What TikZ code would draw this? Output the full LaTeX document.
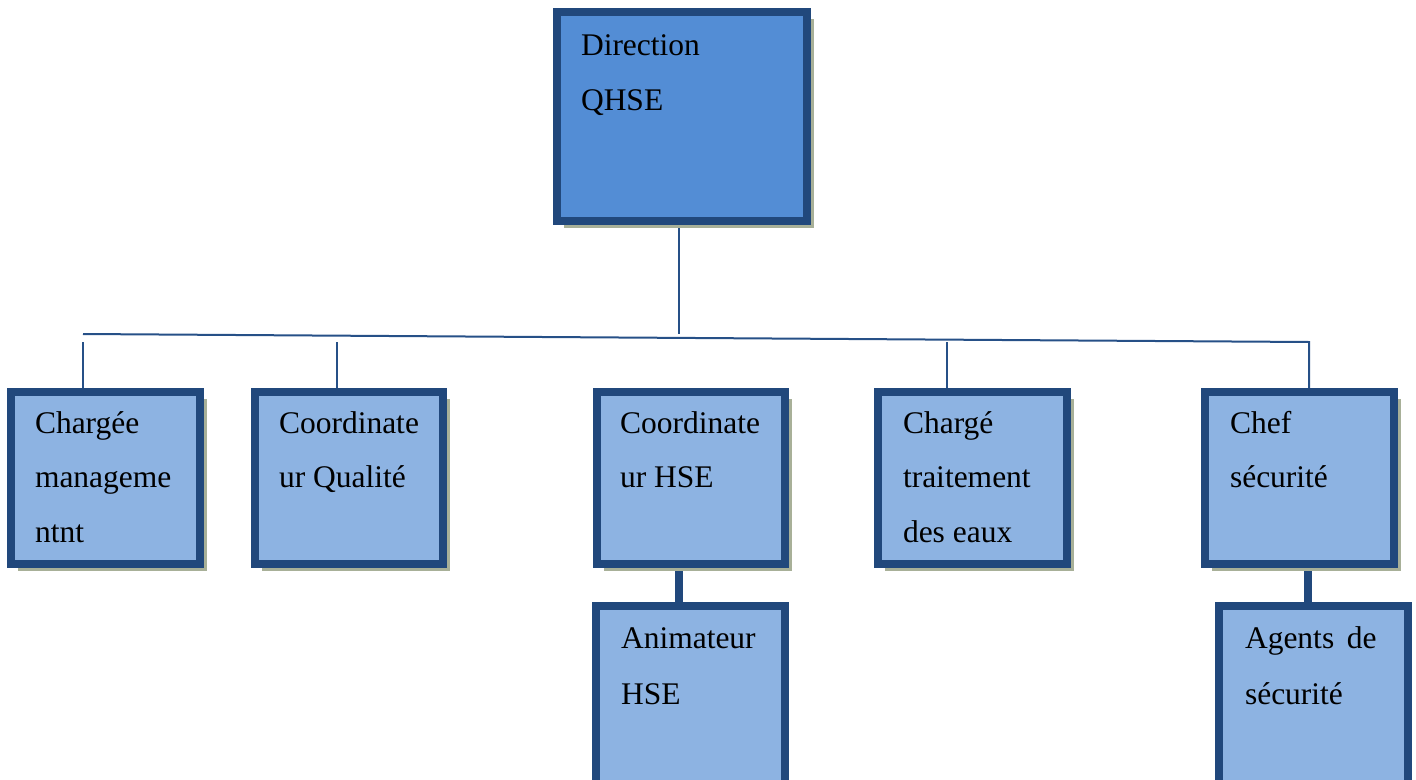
\documentclass[tikz,border=0pt]{standalone}
\usepackage{fontspec}
\setmainfont{Liberation Serif}
\usetikzlibrary{shadows,backgrounds}
\definecolor{bordercol}{RGB}{33,72,124}
\definecolor{linecol}{RGB}{38,80,135}
\definecolor{topfill}{RGB}{83,141,213}
\definecolor{subfill}{RGB}{141,179,226}
\definecolor{shadowcol}{RGB}{168,176,152}
\tikzset{
  orgbox/.style={draw=bordercol, line width=8pt, fill=subfill, rectangle, inner sep=0pt, outer sep=0pt},
  shad/.style={drop shadow={shadow xshift=7pt, shadow yshift=-7pt, fill=shadowcol, opacity=1}},
  lbl/.style={anchor=base west, align=left, inner sep=0pt, outer sep=0pt,
              font=\fontsize{31.5}{55}\selectfont},
  thin/.style={draw=linecol, line width=2pt},
  thick/.style={draw=bordercol, line width=7.5pt}
}
\begin{document}
\begin{tikzpicture}[x=1pt,y=-1pt]
\useasboundingbox (0,0) rectangle (1416,779);
% junction coordinates
\coordinate (jd) at (679,334);
\coordinate (jl) at (83,334);
\coordinate (jr) at (1309,342);
\coordinate (j1) at (83,342);
\coordinate (j2) at (337,342);
\coordinate (j4) at (947,342);
\coordinate (k3) at (679,568);
\coordinate (k5) at (1308,568);
% boxes
\node[orgbox, shad, fill=topfill, minimum width=250pt, minimum height=209pt] (dir) at (682,116.5) {};
\node[orgbox, shad, minimum width=189pt, minimum height=172pt] (b1) at (105.5,478) {};
\node[orgbox, shad, minimum width=188pt, minimum height=172pt] (b2) at (349,478) {};
\node[orgbox, shad, minimum width=188pt, minimum height=172pt] (b3) at (690.5,478) {};
\node[orgbox, shad, minimum width=189pt, minimum height=172pt] (b4) at (972.5,478) {};
\node[orgbox, shad, minimum width=189pt, minimum height=172pt] (b5) at (1299.5,478) {};
\node[orgbox, minimum width=189pt, minimum height=190pt] (b6) at (690.5,701) {};
\node[orgbox, minimum width=189pt, minimum height=190pt] (b7) at (1313.5,701) {};
% connectors
\begin{scope}[on background layer]
\draw[thin] (dir.south -| jd) -- (jd);
\draw[thin] (jl) -- (jr) -- (b5.north -| jr);
\draw[thin] (j1) -- (b1.north -| j1);
\draw[thin] (j2) -- (b2.north -| j2);
\draw[thin] (j4) -- (b4.north -| j4);
\draw[thick] (b3.south -| k3) -- (b6.north -| k3);
\draw[thick] (b5.south -| k5) -- (b7.north -| k5);
\end{scope}
% labels (anchored at the baseline of the last line)
\node[lbl] (tdir) at (581,110) {Direction\\QHSE};
\node[lbl, font=\fontsize{31.5}{54.5}\selectfont] (t1) at (35,542) {Chargée\\manageme\\ntnt};
\node[lbl, font=\fontsize{31.5}{54.5}\selectfont] (t2) at (279,487.5) {Coordinate\\ur Qualité};
\node[lbl, font=\fontsize{31.5}{54.5}\selectfont] (t3) at (620,487.5) {Coordinate\\ur HSE};
\node[lbl, font=\fontsize{31.5}{54.5}\selectfont] (t4) at (903,542) {Chargé\\traitement\\des eaux};
\node[lbl, font=\fontsize{31.5}{54.5}\selectfont] (t5) at (1230,487.5) {Chef\\sécurité};
\node[lbl, font=\fontsize{31.5}{56}\selectfont] (t6) at (621,704) {Animateur\\HSE};
\node[lbl, font=\fontsize{31.5}{56}\selectfont] (t7) at (1245,704) {Agents\hspace{0.15em} de\\sécurité};
\end{tikzpicture}
\end{document}
